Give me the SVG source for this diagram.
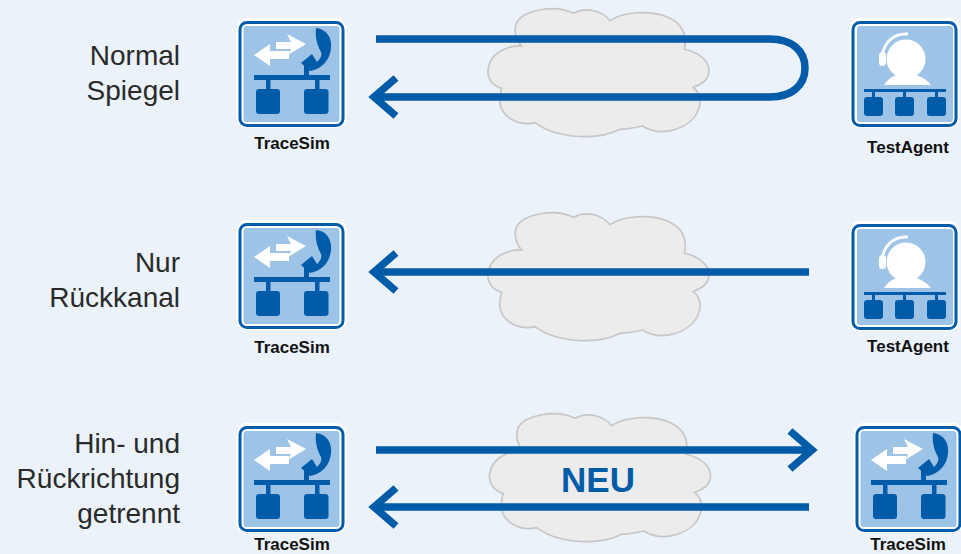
<svg xmlns="http://www.w3.org/2000/svg" xmlns:xlink="http://www.w3.org/1999/xlink" width="961" height="554" viewBox="0 0 961 554">
<style>
.lbl{font:28px "Liberation Sans",Arial,sans-serif;fill:#2a2a2a;text-anchor:end}
.cap{font:bold 17px "Liberation Sans",Arial,sans-serif;fill:#111;text-anchor:middle}
.d{fill:#005ca9}
.w{fill:#fff}
.line{fill:none;stroke:#005ca9;stroke-width:7.5}
.head{fill:none;stroke:#005ca9;stroke-width:7.5}
.cloud{fill:#ececec;stroke:#c6c6c6;stroke-width:5}
.ring{fill:#fff;stroke:#005ca9;stroke-width:3}
.tile{fill:#9dc3e6}
</style>
<defs>
<path id="cl" class="cloud" d="M125 138C108 120 100 90 110 68C130 30 225 12 280 40C315 20 365 30 390 62C430 35 510 30 560 50C600 65 625 100 613 147C665 160 695 190 685 225C680 245 660 255 640 262C660 280 665 305 655 330C635 385 545 415 487 378C455 385 440 388 420 388C360 420 235 420 165 368C115 380 65 350 60 310C57 290 62 280 65 265C30 255 20 225 25 205C30 165 75 135 125 138Z"/>
<g id="ts">
<rect x="236.500" y="18" width="110" height="110" rx="10" fill="#fff"/>
<rect class="ring" x="240" y="22.500" width="103" height="103" rx="7"/>
<rect class="tile" x="243.500" y="26" width="96" height="96" rx="3"/>
<path class="w" d="M254 55L270 44V51H289V59H270V66Z"/>
<path class="w" d="M306 44L287 34L291 42H276V49H291L288 55Z"/>
<path class="d" d="M316 28C327 29 332 38 331 48C330 60 322 69 310 71L301 63L312 54L317 62C321 58 322 55 321 52C317 45 315 37 316 28Z"/>
<rect class="d" x="304" y="65" width="5" height="12"/>
<rect class="d" x="254" y="75" width="76" height="5"/>
<rect class="d" x="266" y="78" width="4.500" height="12"/>
<rect class="d" x="315" y="78" width="4.500" height="12"/>
<rect class="d" x="256" y="89" width="24" height="25" rx="3"/>
<rect class="d" x="304" y="89" width="24.500" height="25" rx="3"/>
</g>
<g id="ta">
<rect x="849.500" y="18" width="110" height="110" rx="10" fill="#fff"/>
<rect class="ring" x="853" y="22.500" width="103" height="103" rx="7"/>
<rect class="tile" x="857" y="26" width="96" height="96" rx="3"/>
<circle class="w" cx="906" cy="59" r="19.500"/>
<path class="w" d="M884 85C889 77 896 74 906 74C916 74 925 77 931 85Z"/>
<path d="M908 34C893 33 884 43 882 56" fill="none" stroke="#fff" stroke-width="3"/>
<rect class="w" x="879" y="52" width="7" height="14" rx="3.500"/>
<rect class="d" x="864" y="89" width="82" height="3"/>
<rect class="d" x="872" y="90" width="3" height="8"/>
<rect class="d" x="903" y="90" width="3" height="8"/>
<rect class="d" x="935" y="90" width="3" height="8"/>
<rect class="d" x="864" y="97" width="19" height="19" rx="3"/>
<rect class="d" x="895" y="97" width="19" height="19" rx="3"/>
<rect class="d" x="927" y="97" width="19" height="19" rx="3"/>
</g>
</defs>
<rect width="961" height="554" fill="#ebf2fa"/>
<g id="clouds">
<use href="#cl" xlink:href="#cl" transform="translate(480 0) scale(.3333)"/>
<use href="#cl" xlink:href="#cl" transform="translate(480 204) scale(.3333)"/>
<use href="#cl" xlink:href="#cl" transform="translate(481.500 405) scale(.3333)"/>
</g>
<g id="connectors">
<path class="line" d="M376 39H770C791 39 805 50 805 68C805 86 791 97 770 97H376"/>
<path class="head" d="M396 78L374 97L396 116"/>
<path class="line" d="M376 272H809"/>
<path class="head" d="M396 253L374 272L396 291"/>
<path class="line" d="M376 450H809"/>
<path class="head" d="M790 431L812 450L790 469"/>
<path class="line" d="M376 507H809"/>
<path class="head" d="M396 488L374 507L396 526"/>
</g>
<g id="labels">
<text class="lbl" x="180" y="65">Normal</text>
<text class="lbl" x="180" y="100">Spiegel</text>
<text class="lbl" x="180" y="272">Nur</text>
<text class="lbl" x="180" y="307">Rückkanal</text>
<text class="lbl" x="180" y="453">Hin- und</text>
<text class="lbl" x="180" y="488">Rückrichtung</text>
<text class="lbl" x="180" y="523">getrennt</text>
</g>
<g id="neu"><text x="598" y="492" font-family="Liberation Sans, Arial, sans-serif" font-weight="bold" font-size="35" fill="#005ca9" text-anchor="middle">NEU</text></g>
<g id="tracesim1"><use href="#ts" xlink:href="#ts"/><text class="cap" x="292" y="149">TraceSim</text></g>
<g id="testagent1"><use href="#ta" xlink:href="#ta"/><text class="cap" x="908" y="153">TestAgent</text></g>
<g id="tracesim2"><use href="#ts" xlink:href="#ts" y="202"/><text class="cap" x="292" y="353">TraceSim</text></g>
<g id="testagent2"><use href="#ta" xlink:href="#ta" y="203"/><text class="cap" x="908" y="352">TestAgent</text></g>
<g id="tracesim3"><use href="#ts" xlink:href="#ts" y="405"/><text class="cap" x="292" y="550">TraceSim</text></g>
<g id="tracesim4"><use href="#ts" xlink:href="#ts" x="617" y="405"/><text class="cap" x="908" y="550">TraceSim</text></g>
</svg>
